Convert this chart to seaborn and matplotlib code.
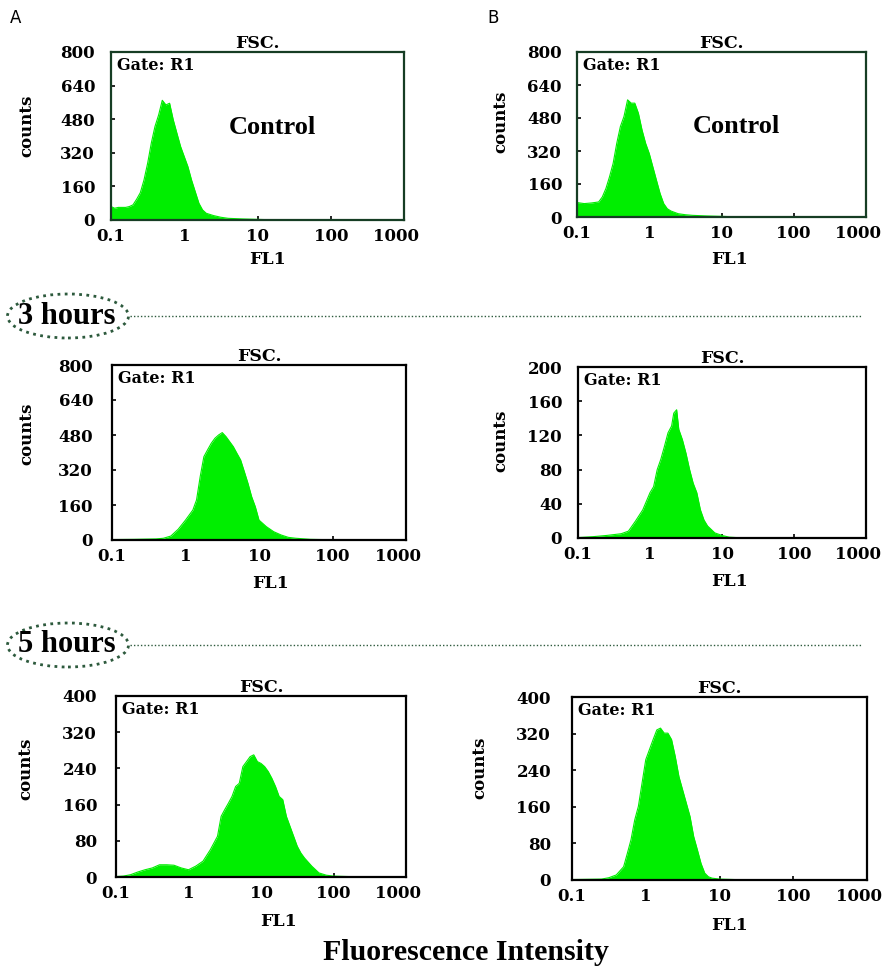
import numpy as np
import matplotlib
matplotlib.use("Agg")
import matplotlib.pyplot as plt
import matplotlib.transforms as mtransforms
import seaborn as sns
from matplotlib.patches import Ellipse
from matplotlib.lines import Line2D

# ---- data (log10 of FL1, counts) ----
ctrl_a_log = [-1.0, -0.95, -0.9, -0.8, -0.75, -0.7, -0.65, -0.6, -0.55, -0.5, -0.45, -0.4,
              -0.35, -0.3, -0.25, -0.2, -0.15, -0.1, -0.05, 0.0, 0.05, 0.1, 0.15, 0.2,
              0.25, 0.3, 0.4, 0.5, 0.6, 0.8, 1.0, 1.2, 1.4, 3.0]
ctrl_a_counts = [64, 56, 60, 60, 64, 72, 99, 130, 190, 270, 366, 445,
                 500, 570, 548, 556, 477, 413, 350, 302, 254, 190, 135, 80,
                 48, 32, 21, 13, 8, 5, 3, 1, 0, 0]

ctrl_b_log = [-1.0, -0.9, -0.8, -0.7, -0.65, -0.6, -0.55, -0.5, -0.45, -0.4, -0.35, -0.3,
              -0.25, -0.2, -0.15, -0.1, -0.05, 0.0, 0.05, 0.1, 0.15, 0.2, 0.25, 0.3,
              0.4, 0.5, 0.6, 0.8, 1.0, 1.2, 1.4, 3.0]
ctrl_b_counts = [70, 65, 68, 73, 97, 138, 195, 260, 357, 438, 487, 568,
                 552, 552, 503, 422, 357, 308, 243, 178, 114, 65, 40, 29,
                 16, 11, 8, 5, 3, 1, 0, 0]

h3_a_log = [-1.0, -0.7, -0.4, -0.3, -0.2, -0.1, 0.0, 0.1, 0.15, 0.2, 0.25, 0.3, 0.35, 0.4,
            0.45, 0.5, 0.55, 0.6, 0.65, 0.7, 0.75, 0.8, 0.85, 0.9, 0.95, 1.0, 1.05,
            1.1, 1.2, 1.3, 1.4, 1.5, 1.7, 2.0, 2.2, 3.0]
h3_a_counts = [2, 3, 5, 8, 18, 49, 91, 137, 183, 290, 381, 412, 442, 465,
               480, 491, 473, 450, 427, 396, 366, 313, 259, 198, 152, 91, 76,
               61, 38, 23, 12, 8, 3, 1, 0, 0]

h3_b_log = [-1.0, -0.8, -0.6, -0.4, -0.3, -0.2, -0.1, 0.0, 0.05, 0.1, 0.15, 0.2, 0.25,
            0.3, 0.33, 0.37, 0.4, 0.45, 0.5, 0.55, 0.6, 0.65, 0.7, 0.75, 0.8, 0.9,
            1.0, 1.1, 1.3, 3.0]
h3_b_counts = [0.5, 1.5, 3, 5, 8, 20, 33, 53, 60, 80, 92, 107, 123,
               131, 146, 150, 127, 115, 99, 80, 64, 53, 33, 21, 14, 6,
               3, 1, 0, 0]

h5_a_log = [-1.0, -0.9, -0.8, -0.7, -0.6, -0.5, -0.4, -0.3, -0.2, -0.1, 0.0, 0.1, 0.2,
            0.3, 0.4, 0.45, 0.5, 0.55, 0.6, 0.65, 0.7, 0.75, 0.8, 0.85, 0.9, 0.95,
            1.0, 1.05, 1.1, 1.15, 1.2, 1.25, 1.3, 1.35, 1.4, 1.45, 1.5, 1.55, 1.6,
            1.7, 1.8, 1.9, 2.0, 2.2, 2.4, 3.0]
h5_a_counts = [1, 2, 5, 11, 16, 20, 27, 27, 26, 20, 16, 24, 35,
               60, 90, 134, 149, 163, 178, 200, 207, 244, 255, 266, 270, 255,
               251, 244, 233, 218, 200, 178, 171, 134, 112, 90, 68, 53, 42,
               24, 9, 4, 2, 1, 0, 0]

h5_b_log = [-1.0, -0.6, -0.5, -0.4, -0.3, -0.25, -0.2, -0.15, -0.1, -0.05, 0.0, 0.05,
            0.1, 0.15, 0.2, 0.25, 0.3, 0.35, 0.4, 0.45, 0.5, 0.55, 0.6, 0.65, 0.7,
            0.75, 0.8, 0.85, 0.9, 1.0, 1.2, 1.4, 3.0]
h5_b_counts = [1, 2, 5, 11, 29, 58, 88, 131, 161, 212, 263, 285,
               307, 328, 332, 321, 321, 307, 270, 226, 197, 168, 139, 95, 66,
               36, 15, 7, 4, 2, 1, 0, 0]

x_ticks = [0.1, 1, 10, 100, 1000]
x_ticklabels = ["0.1", "1", "10", "100", "1000"]
ymax_list = [800, 800, 800, 200, 400, 400]

sns.set_theme(style="white")
plt.rcParams.update({"text.color": "black", "axes.labelcolor": "black",
                     "xtick.color": "black", "ytick.color": "black"})
GREEN = "#00ee00"
SMALL = ["DejaVu Serif"]
BIG = ["Liberation Serif", "DejaVu Serif"]

W, H = 888, 976
fig = plt.figure(figsize=(W / 100, H / 100), dpi=100)

# layout in pixels: axes box (left, top, right, bottom), label centres, tick pad
boxes = [(111, 52, 404, 220), (577, 52, 866, 217),
         (112, 365, 406, 540), (578, 367, 866, 538),
         (116, 696, 406, 877), (572, 697, 867, 880)]
ylabel_px = [(27, 126), (501, 122), (27, 434), (501, 441), (26, 769), (480, 768)]
xlabel_px = [(267, 259), (729, 259), (270, 583), (729, 582), (278, 922), (730, 925)]
ypad_px = [16, 15, 19, 16, 19, 21]

panels = [(ctrl_a_log, ctrl_a_counts), (ctrl_b_log, ctrl_b_counts),
          (h3_a_log, h3_a_counts), (h3_b_log, h3_b_counts),
          (h5_a_log, h5_a_counts), (h5_b_log, h5_b_counts)]

shift_left = mtransforms.ScaledTranslation(-6 / 72, 0, fig.dpi_scale_trans)

for i, ((l, t, r, b), (logs, counts)) in enumerate(zip(boxes, panels)):
    ax = fig.add_axes([l / W, 1 - b / H, (r - l) / W, (b - t) / H])
    x = 10 ** np.array(logs)
    sns.lineplot(x=x, y=counts, ax=ax, color=GREEN, lw=0.8)
    ax.fill_between(x, counts, color=GREEN, lw=0)
    ax.set_xscale("log")
    ax.set_xlim(0.1, 1000)
    ymax = ymax_list[i]
    ax.set_ylim(0, ymax)
    ax.set_xticks(x_ticks)
    ax.set_xticklabels(x_ticklabels)
    ax.minorticks_off()
    yt = np.linspace(0, ymax, 6)
    ax.set_yticks(yt)
    ax.set_yticklabels([str(int(v)) for v in yt])
    edge = "#163d24" if i < 2 else "black"
    for s in ax.spines.values():
        s.set_color(edge)
        s.set_linewidth(1.6)
    ax.tick_params(axis="both", direction="in", length=3, width=1.2,
                   bottom=True, left=True)
    ax.tick_params(axis="y", pad=ypad_px[i] * 0.72)
    ax.tick_params(axis="x", pad=6)
    for lab in ax.get_xticklabels() + ax.get_yticklabels():
        lab.set_family(SMALL)
        lab.set_fontweight("bold")
        lab.set_fontsize(12)
    # nudge the "1000" label left so it stays inside the figure
    last = ax.xaxis.get_major_ticks()[-1].label1
    last.set_transform(last.get_transform() + shift_left)

    ax.set_xlabel("FL1", family=SMALL, fontweight="bold", fontsize=12.5, va="center")
    ax.xaxis.set_label_coords((xlabel_px[i][0] - l) / (r - l), (b - xlabel_px[i][1]) / (b - t))
    ax.set_ylabel("counts", family=SMALL, fontweight="bold", fontsize=12, va="center")
    ax.yaxis.set_label_coords((ylabel_px[i][0] - l) / (r - l), (b - ylabel_px[i][1]) / (b - t))
    ax.set_title("FSC.", family=SMALL, fontweight="bold", fontsize=12.5, pad=3)
    ax.text(0.02, 0.97, "Gate: R1", transform=ax.transAxes, va="top", ha="left",
            family=SMALL, fontweight="bold", fontsize=11.5)
    if i < 2:
        ax.text(0.55, 0.55, "Control", transform=ax.transAxes, va="center", ha="center",
                family=BIG, fontweight="bold", fontsize=19)

fig.text(10 / W, 1 - 18 / H, "A", fontsize=12, va="center", ha="left", family=["DejaVu Sans"])
fig.text(487 / W, 1 - 18 / H, "B", fontsize=12, va="center", ha="left", family=["DejaVu Sans"])

# time separators
for label, yc in [("3 hours", 316), ("5 hours", 645)]:
    e = Ellipse((68 / W, 1 - yc / H), 121 / W, 44 / H, transform=fig.transFigure,
                fill=False, ec="#2d5a3d", lw=2.0, ls=(0, (1, 1.6)))
    fig.add_artist(e)
    fig.text(67 / W, 1 - yc / H, label, family=BIG, fontweight="bold", fontsize=22,
             ha="center", va="center")
    fig.add_artist(Line2D([130 / W, 861 / W], [1 - yc / H, 1 - yc / H],
                          transform=fig.transFigure, color="#2d5a3d", lw=1.0,
                          ls=(0, (1, 1.5))))

fig.text(466 / W, 1 - 952 / H, "Fluorescence Intensity", family=BIG, fontweight="bold",
         fontsize=21.5, ha="center", va="center")

fig.savefig("out.png", dpi=100)
